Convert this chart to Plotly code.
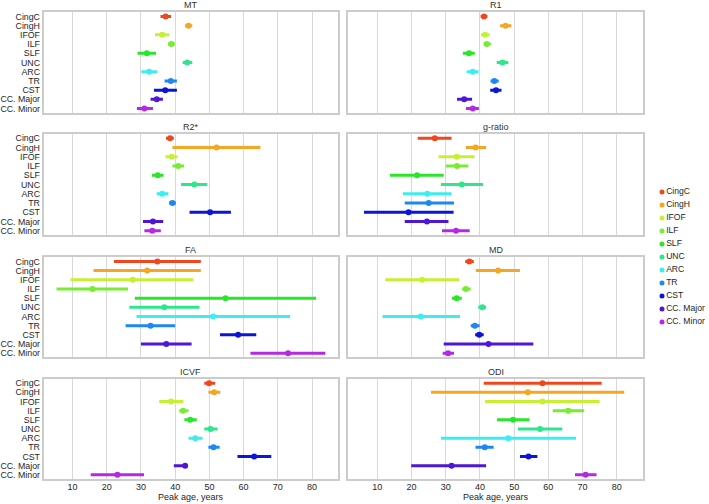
import plotly.graph_objects as go

tracts = ["CingC", "CingH", "IFOF", "ILF", "SLF", "UNC", "ARC", "TR", "CST", "CC. Major", "CC. Minor"]
colors = ["#f0461e", "#f5a623", "#c8f032", "#78ec32", "#28e628", "#2ee68c", "#3ceef0", "#1e88f0", "#0a16d2", "#4e16d6", "#b428e6"]

panels = ["MT", "R1", "R2*", "g-ratio", "FA", "MD", "ICVF", "ODI"]

# peak age (centre) and interval low/high per panel, in tract order
MT_c = [37.2, 43.9, 36.2, 38.9, 31.7, 43.5, 32.4, 38.7, 37.1, 34.6, 31.0]
MT_lo = [35.7, 42.9, 34.1, 37.9, 29.0, 42.2, 30.1, 36.9, 33.8, 32.8, 28.8]
MT_hi = [38.8, 45.0, 38.3, 39.9, 34.4, 45.0, 34.7, 40.5, 40.5, 36.4, 33.5]

R1_c = [41.2, 47.5, 41.5, 42.0, 36.8, 46.6, 37.9, 44.2, 44.7, 35.4, 37.9]
R1_lo = [40.2, 45.9, 40.3, 41.1, 35.0, 44.9, 36.1, 43.1, 43.0, 33.3, 35.9]
R1_hi = [42.2, 49.2, 42.8, 43.2, 38.5, 48.3, 39.6, 45.5, 46.3, 37.7, 39.7]

R2s_c = [38.5, 52.1, 39.0, 40.9, 34.9, 45.6, 36.2, 39.2, 50.2, 33.5, 33.3]
R2s_lo = [37.3, 39.2, 37.2, 39.2, 33.2, 41.7, 34.6, 38.2, 44.2, 30.6, 31.0]
R2s_hi = [39.6, 64.9, 40.7, 42.6, 36.6, 49.4, 38.0, 40.2, 56.3, 36.5, 35.8]

GR_c = [26.8, 38.7, 33.2, 33.3, 21.6, 34.7, 24.6, 25.0, 19.1, 24.5, 33.0]
GR_lo = [21.8, 35.9, 27.9, 30.0, 13.7, 28.6, 17.5, 18.0, 6.1, 18.0, 28.9]
GR_hi = [31.7, 41.8, 38.4, 36.6, 29.4, 40.9, 31.7, 32.4, 32.3, 30.8, 37.0]

FA_c = [34.8, 31.8, 27.6, 15.8, 54.7, 36.8, 51.1, 32.8, 58.4, 37.4, 73.0]
FA_lo = [22.1, 16.1, 9.4, 5.3, 28.2, 26.6, 28.7, 25.5, 53.1, 30.0, 62.0]
FA_hi = [47.5, 47.5, 45.3, 26.2, 81.2, 47.1, 73.6, 40.0, 63.7, 44.8, 83.9]

MD_c = [36.9, 45.3, 23.1, 35.9, 33.2, 40.7, 22.7, 38.5, 39.8, 42.5, 30.7]
MD_lo = [35.7, 38.8, 12.3, 34.8, 31.8, 39.5, 11.5, 37.3, 38.6, 29.4, 29.1]
MD_hi = [38.2, 51.7, 33.9, 37.3, 34.7, 41.8, 34.2, 39.9, 41.1, 55.6, 32.4]

ICVF_c = [49.9, 51.4, 38.8, 42.3, 44.4, 50.3, 45.9, 51.2, 63.1, 42.9, 23.1]
ICVF_lo = [48.5, 49.7, 35.3, 41.2, 42.7, 48.5, 43.9, 49.7, 58.2, 39.6, 15.3]
ICVF_hi = [51.7, 53.2, 42.4, 43.9, 46.3, 52.4, 48.0, 53.0, 68.1, 43.7, 30.9]

ODI_c = [58.3, 54.0, 58.3, 65.8, 49.7, 57.6, 48.3, 41.4, 54.2, 31.7, 70.9]
ODI_lo = [41.1, 25.7, 41.5, 61.3, 45.0, 51.1, 28.6, 38.7, 51.7, 19.9, 67.8]
ODI_hi = [75.6, 82.2, 75.0, 70.5, 54.5, 64.1, 68.1, 44.0, 56.8, 41.8, 74.1]

panel_data = [
    (MT_c, MT_lo, MT_hi), (R1_c, R1_lo, R1_hi),
    (R2s_c, R2s_lo, R2s_hi), (GR_c, GR_lo, GR_hi),
    (FA_c, FA_lo, FA_hi), (MD_c, MD_lo, MD_hi),
    (ICVF_c, ICVF_lo, ICVF_hi), (ODI_c, ODI_lo, ODI_hi),
]

x_ticks = [10, 20, 30, 40, 50, 60, 70, 80]
x_title = "Peak age, years"

W, H = 709, 504
col_px = [(43.5, 338.0), (348.3, 642.7)]
row_px = [(12.3, 112.7), (134.0, 235.0), (257.3, 357.3), (379.0, 479.0)]

FONT = "Liberation Sans, Arial, sans-serif"
TXT = "#262626"
fig = go.Figure()
layout = dict(
    width=W, height=H, margin=dict(l=0, r=0, t=0, b=0),
    paper_bgcolor="white", plot_bgcolor="white",
    showlegend=False, font=dict(family=FONT, size=9, color=TXT),
    annotations=[],
)

for i, name in enumerate(panels):
    r, c = divmod(i, 2)
    idx = i + 1
    xa = "x" if idx == 1 else f"x{idx}"
    ya = "y" if idx == 1 else f"y{idx}"
    cen, lo, hi = panel_data[i]
    for k, t in enumerate(tracts):
        fig.add_trace(go.Scatter(
            x=[cen[k]], y=[t], mode="markers", xaxis=xa, yaxis=ya,
            marker=dict(color=colors[k], size=6),
            error_x=dict(type="data", symmetric=False, array=[hi[k] - cen[k]],
                         arrayminus=[cen[k] - lo[k]], thickness=3, width=0,
                         color=colors[k]),
            showlegend=False, hoverinfo="skip", cliponaxis=False,
        ))
    x0, x1 = col_px[c]
    y0, y1 = row_px[r]
    bottom = (r == 3)
    layout["xaxis" if idx == 1 else f"xaxis{idx}"] = dict(
        domain=[x0 / W, x1 / W], anchor=ya, range=[1.5, 87.6],
        tickmode="array", tickvals=x_ticks, showticklabels=bottom, ticks="",
        showgrid=True, gridcolor="#d9d9d9", gridwidth=1.3, zeroline=False,
        showline=True, mirror=True, linecolor="#cccccc", linewidth=1.5,
        tickfont=dict(size=9, color=TXT), automargin=False, ticklabelstandoff=-2,
        fixedrange=True,
    )
    layout["yaxis" if idx == 1 else f"yaxis{idx}"] = dict(
        domain=[1 - y1 / H, 1 - y0 / H], anchor=xa, type="category",
        categoryorder="array", categoryarray=tracts, range=[10.45, -0.45],
        tickmode="array", tickvals=tracts, ticktext=tracts,
        showticklabels=(c == 0), ticks="", showgrid=False, zeroline=False,
        showline=True, mirror=True, linecolor="#cccccc", linewidth=1.5,
        tickfont=dict(size=8.8, color=TXT), automargin=False, ticklabelstandoff=0,
        fixedrange=True,
    )
    layout["annotations"].append(dict(
        text=name, x=(x0 + x1) / 2 / W, y=1 - (y0 - 7.5) / H, xref="paper", yref="paper",
        showarrow=False, xanchor="center", yanchor="middle",
        font=dict(size=9, color="#333333"),
    ))
    if bottom:
        layout["annotations"].append(dict(
            text=x_title, x=(x0 + x1) / 2 / W, y=1 - 497 / H, xref="paper", yref="paper",
            showarrow=False, xanchor="center", yanchor="middle",
            font=dict(size=9, color=TXT),
        ))

# legend drawn as its own small axis
lx = len(panels) + 1
for k, t in enumerate(tracts):
    fig.add_trace(go.Scatter(
        x=[0], y=[t], mode="markers+text", text=[t], textposition="middle right",
        xaxis=f"x{lx}", yaxis=f"y{lx}", marker=dict(color=colors[k], size=5),
        textfont=dict(size=8.6, color=TXT), showlegend=False,
        hoverinfo="skip", cliponaxis=False,
    ))
layout[f"xaxis{lx}"] = dict(domain=[662 / W, 1.0], range=[0, 1], visible=False,
                            anchor=f"y{lx}", fixedrange=True)
layout[f"yaxis{lx}"] = dict(domain=[1 - 328.5 / H, 1 - 185.5 / H], type="category",
                            categoryorder="array", categoryarray=tracts,
                            range=[10.5, -0.5], visible=False, anchor=f"x{lx}", fixedrange=True)

fig.update_layout(**layout)
fig.write_html("out.html", config={"displayModeBar": False},
               post_script="document.body.style.margin='0px';")
